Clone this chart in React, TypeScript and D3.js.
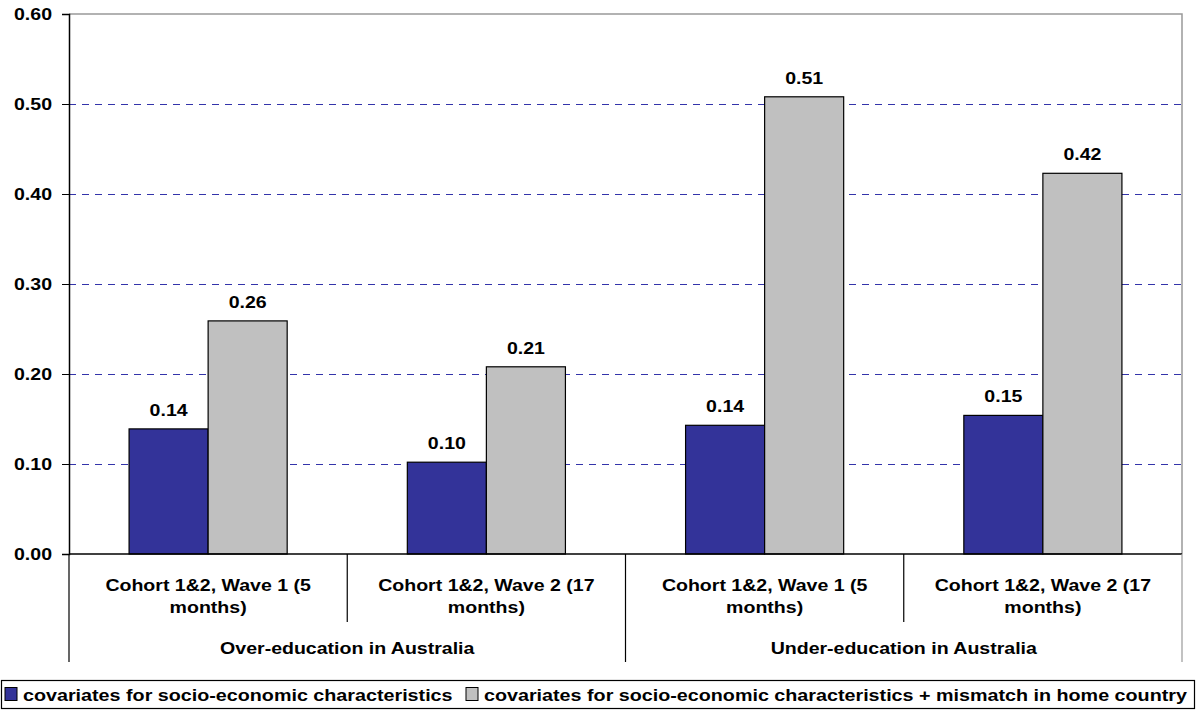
import React, { useEffect, useRef } from "react";
import * as d3 from "d3";

// chart data
const groups = ["Over-education in Australia", "Under-education in Australia"];
const categories = [
  ["Cohort 1&2, Wave 1 (5", "months)"],
  ["Cohort 1&2, Wave 2 (17", "months)"],
  ["Cohort 1&2, Wave 1 (5", "months)"],
  ["Cohort 1&2, Wave 2 (17", "months)"],
];
const seriesNames = [
  "covariates for socio-economic characteristics",
  "covariates for socio-economic characteristics + mismatch in home country",
];
const socioValues = [0.139, 0.102, 0.143, 0.154];
const mismatchValues = [0.259, 0.208, 0.508, 0.423];
const yTicks = [0, 0.1, 0.2, 0.3, 0.4, 0.5, 0.6];

const colors = ["#333399", "#c0c0c0"];
const W = 1197;
const H = 711;
const FONT = "'Liberation Sans', Arial, sans-serif";
const FS = 17;
const SX = 1.15; // the original text is drawn a bit wide

type G = d3.Selection<SVGGElement, unknown, null, undefined>;

// wide bold label, placed by translate + horizontal stretch
function label(g: G, x: number, y: number, txt: string, anchor = "middle", sx = SX) {
  g.append("text")
    .attr("transform", `translate(${x},${y}) scale(${sx},1)`)
    .attr("text-anchor", anchor)
    .attr("font-family", FONT)
    .attr("font-weight", "bold")
    .attr("font-size", FS)
    .attr("fill", "#000")
    .text(txt);
}

function drawChart(svgEl: SVGSVGElement) {
  const svg = d3.select(svgEl);
  svg.selectAll("*").remove();
  const root = svg.append("g") as unknown as G;

  const left = 69, right = 1182, top = 14, bottom = 554;

  const x = d3.scaleBand<number>()
    .domain(d3.range(categories.length))
    .range([left, right]);
  const inner = d3.scaleBand<number>()
    .domain([0, 1])
    .range([0, x.bandwidth()])
    .paddingOuter(0.76)
    .paddingInner(0);
  const y = d3.scaleLinear().domain([0, 0.6]).range([bottom, top]);

  // plot frame top/right
  root.append("path")
    .attr("d", `M${left},${top}H${right}V${bottom}`)
    .attr("fill", "none")
    .attr("stroke", "#999")
    .attr("stroke-width", 1.5);

  // grid lines
  root.append("g")
    .selectAll("line")
    .data(yTicks.filter((t) => t > 0 && t < 0.6))
    .join("line")
    .attr("x1", left)
    .attr("x2", right)
    .attr("y1", (d) => Math.round(y(d)) + 0.5)
    .attr("y2", (d) => Math.round(y(d)) + 0.5)
    .attr("stroke", "#3333aa")
    .attr("stroke-dasharray", "7,6");

  // bars
  const series = [socioValues, mismatchValues];
  series.forEach((vals, si) => {
    root.append("g")
      .selectAll("rect")
      .data(vals)
      .join("rect")
      .attr("x", (_, i) => x(i)! + inner(si)!)
      .attr("y", (d) => y(d))
      .attr("width", inner.bandwidth())
      .attr("height", (d) => y(0) - y(d))
      .attr("fill", colors[si])
      .attr("stroke", "#000")
      .attr("stroke-width", 1.2);

    const lbl = root.append("g") as G;
    vals.forEach((v, i) => {
      label(lbl, x(i)! + inner(si)! + inner.bandwidth() / 2, y(v) - 13, v.toFixed(2));
    });
  });

  // y axis
  const yAxis = root.append("g")
    .attr("transform", `translate(${left},0)`)
    .call(d3.axisLeft(y).tickValues(yTicks).tickFormat(() => "").tickSize(7));
  yAxis.select(".domain").attr("stroke", "#000").attr("stroke-width", 1.5);
  yAxis.selectAll(".tick line").attr("stroke", "#000");
  const yl = root.append("g") as G;
  yTicks.forEach((t) => label(yl, 52, y(t) + 6, d3.format(".2f")(t), "end"));

  // x axis baseline
  root.append("line")
    .attr("x1", left).attr("x2", right)
    .attr("y1", bottom).attr("y2", bottom)
    .attr("stroke", "#000").attr("stroke-width", 1.5);

  // category separators
  const seps = d3.range(categories.length + 1);
  root.append("g")
    .selectAll("line")
    .data(seps)
    .join("line")
    .attr("x1", (i) => (i === categories.length ? right : x(i)!))
    .attr("x2", (i) => (i === categories.length ? right : x(i)!))
    .attr("y1", bottom)
    .attr("y2", (i) => (i % 2 === 0 ? 662 : 622))
    .attr("stroke", (i) => (i === categories.length ? "#999" : "#000"))
    .attr("stroke-width", 1.2);

  // category labels
  const cl = root.append("g") as G;
  categories.forEach((lines, i) => {
    lines.forEach((ln, j) => label(cl, x(i)! + x.bandwidth() / 2, 591 + j * 22, ln));
  });

  // group labels
  const gl = root.append("g") as G;
  groups.forEach((gName, g) => label(gl, x(g * 2)! + x.bandwidth(), 654, gName));

  // legend
  const lg = root.append("g") as G;
  lg.append("rect")
    .attr("x", 1.5).attr("y", 680.5)
    .attr("width", 1193).attr("height", 28)
    .attr("fill", "#fff").attr("stroke", "#000").attr("stroke-width", 1.2);
  const legendX = [5, 466];
  seriesNames.forEach((name, i) => {
    lg.append("rect")
      .attr("x", legendX[i]).attr("y", 687.5)
      .attr("width", 12).attr("height", 13)
      .attr("fill", colors[i]).attr("stroke", "#000").attr("stroke-width", 1);
    label(lg, legendX[i] + 18, 700.5, name, "start", 1.16);
  });
}

export default function App() {
  const ref = useRef<SVGSVGElement>(null);
  useEffect(() => {
    document.body.style.margin = "0";
    if (ref.current) drawChart(ref.current);
  }, []);
  return (
    <svg ref={ref} width={W} height={H} style={{ display: "block", background: "#fff" }} />
  );
}
